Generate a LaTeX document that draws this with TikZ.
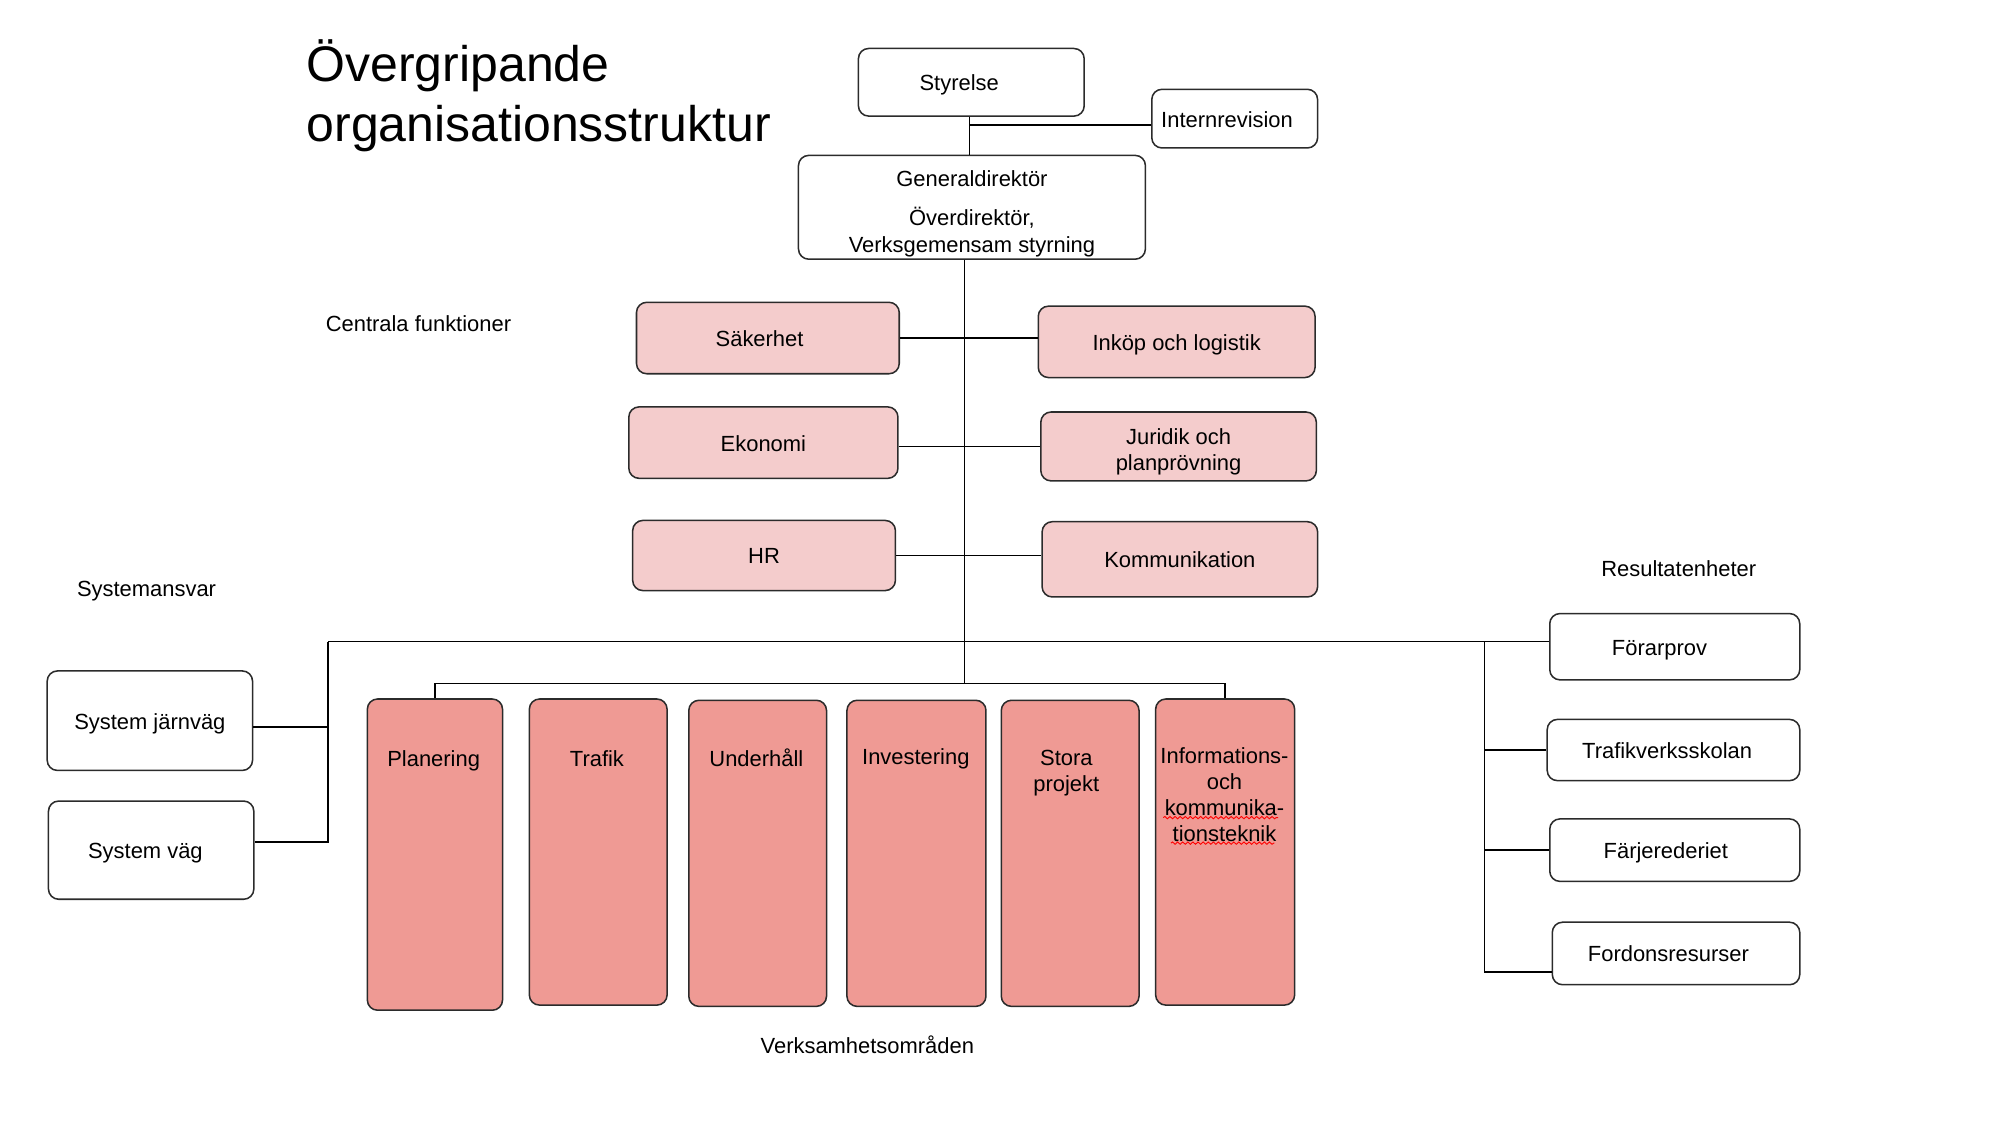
\documentclass[tikz,border=0pt]{standalone}
\usepackage{fontspec}
\setmainfont{Liberation Sans}
\usetikzlibrary{decorations.pathmorphing}
\definecolor{lightpink}{HTML}{F4CCCC}
\definecolor{darkpink}{HTML}{EF9A94}
\definecolor{edgegray}{HTML}{2B2B2B}
\newcommand{\shiftl}[2]{#2\hspace*{#1pt}}
\begin{document}
\begin{tikzpicture}[x=0.5pt,y=-0.5pt,
  every node/.style={font=\fontsize{8.6pt}{10.3pt}\selectfont, text=black},
  wbox/.style={draw=edgegray, line width=0.6pt, rounded corners=4pt, fill=white, align=center, inner sep=1pt},
  lbox/.style={wbox, fill=lightpink},
  dbox/.style={wbox, fill=darkpink},
  one/.style={text height=8.4pt, text depth=1.8pt},
  lbl/.style={align=center, inner sep=0pt},
  conn/.style={draw=black, line width=0.6pt},
  titlefont/.style={font=\fontsize{19.6pt}{23.5pt}\selectfont, inner sep=0pt, anchor=base west},
  squiggle/.style={draw=red, line width=0.35pt, decorate, decoration={snake, amplitude=0.45pt, segment length=2pt}}
  ]
\useasboundingbox (0,0) rectangle (1568,880.5);

% title
\node[titlefont] (t1) at (240,64) {Övergripande};
\node[titlefont] (t2) at (240,111) {organisationsstruktur};

% top
\node[wbox, one, minimum width=88.5pt, minimum height=26.5pt] (sty) at (761.5,64.5) {\shiftl{9.5}{Styrelse}};
\node[wbox, one, minimum width=65pt, minimum height=23pt] (ir) at (968,93) {\shiftl{6}{Internrevision}};
\node[wbox, minimum width=136pt, minimum height=40.5pt] (gd) at (762,162.5) {\rule{0pt}{11.3pt}Generaldirektör\\[5pt]Överdirektör,\\Verksgemensam styrning};

% central functions
\node[lbl, one, anchor=west] (cf) at (255,253) {Centrala funktioner};
\node[lbox, one, minimum width=103pt, minimum height=28pt] (sak) at (602,265) {\shiftl{6.5}{Säkerhet}};
\node[lbox, one, minimum width=108.5pt, minimum height=28pt] (ink) at (922.5,268) {Inköp och logistik};
\node[lbox, one, minimum width=105.5pt, minimum height=28pt] (eko) at (598.5,347) {Ekonomi};
\node[lbox, minimum width=108pt, minimum height=27pt] (jur) at (924,350) {\rule{0pt}{10.3pt}Juridik och\\planprövning};
\node[lbox, one, minimum width=103pt, minimum height=27.5pt] (hr) at (599,435.5) {HR};
\node[lbox, one, minimum width=108pt, minimum height=29.5pt] (kom) at (925,438.5) {Kommunikation};

% systemansvar
\node[lbl, one, anchor=west] (sa) at (60,461) {Systemansvar};
\node[wbox, one, minimum width=80.5pt, minimum height=39pt] (sj) at (117.5,565) {System järnväg};
\node[wbox, one, minimum width=80.5pt, minimum height=38.5pt] (sv) at (118.5,666.5) {\shiftl{4.5}{System väg}};

% resultatenheter
\node[lbl, one, anchor=west] (re) at (1255,445) {Resultatenheter};
\node[wbox, one, minimum width=98pt, minimum height=26pt] (far) at (1313,507) {\shiftl{12}{Förarprov}};
\node[wbox, one, minimum width=99pt, minimum height=24pt] (tv) at (1312,588) {\shiftl{5}{Trafikverksskolan}};
\node[wbox, one, minimum width=98pt, minimum height=24.5pt] (fj) at (1313,666.5) {\shiftl{7}{Färjerederiet}};
\node[wbox, one, minimum width=97pt, minimum height=24.5pt] (fo) at (1314,747.5) {\shiftl{6}{Fordonsresurser}};

% verksamhetsomraden
\node[dbox, minimum width=53pt, minimum height=122pt] (plan) at (341,670) {};
\node[dbox, minimum width=54pt, minimum height=120pt] (traf) at (469,668) {};
\node[dbox, minimum width=54pt, minimum height=120pt] (und) at (594,669) {};
\node[dbox, minimum width=54.5pt, minimum height=120pt] (inv) at (718.5,669) {};
\node[dbox, minimum width=54pt, minimum height=120pt] (sto) at (839,669) {};
\node[dbox, minimum width=54.5pt, minimum height=120pt] (info) at (960.5,668) {};
\node[lbl, one] (planT) at (340,594) {Planering};
\node[lbl, one] (trafT) at (468,594) {Trafik};
\node[lbl, one] (undT) at (593,594) {Underhåll};
\node[lbl, one] (invT) at (718,593) {Investering};
\node[lbl] (stoT) at (836,606) {Stora\\projekt};
\node[lbl] (infoT) at (960,623) {Informations-\\och\\kommunika-\\tionsteknik};
\node[lbl, one] (vo) at (680,819) {Verksamhetsområden};

% spell-check underline
\draw[squiggle] (912,641) -- (1002,641);
\draw[squiggle] (918,661) -- (999,661);

% connectors
\coordinate (j1) at (760,98);
\draw[conn] (sty.south -| j1) -- (gd.north -| j1);
\draw[conn] (j1) -- (j1 -| ir.west);
\coordinate (mend) at (756,536);
\draw[conn] (gd.south -| mend) -- (mend);
\draw[conn] (sak.east) -- (sak.east -| ink.west);
\draw[conn] (jur.west -| eko.east) -- (jur.west);
\draw[conn] (hr.east) -- (hr.east -| kom.west);
\coordinate (lh) at (257,503);
\coordinate (rh) at (1164,503);
\draw[conn] (lh) -- (lh -| far.west);
\coordinate (bj) at (257,570);
\coordinate (bv) at (257,660);
\draw[conn] (lh) -- (bv) -- (bv -| sv.east);
\draw[conn] (bj) -- (bj -| sj.east);
\coordinate (rv) at (1164,762);
\draw[conn] (rh) -- (rv) -- (rv -| fo.west);
\draw[conn] (rh |- tv.west) -- (tv.west);
\draw[conn] (rh |- fj.west) -- (fj.west);
\draw[conn] (plan.north) -- (plan.north |- mend) -- (info.north |- mend) -- (info.north);
\end{tikzpicture}
\end{document}
